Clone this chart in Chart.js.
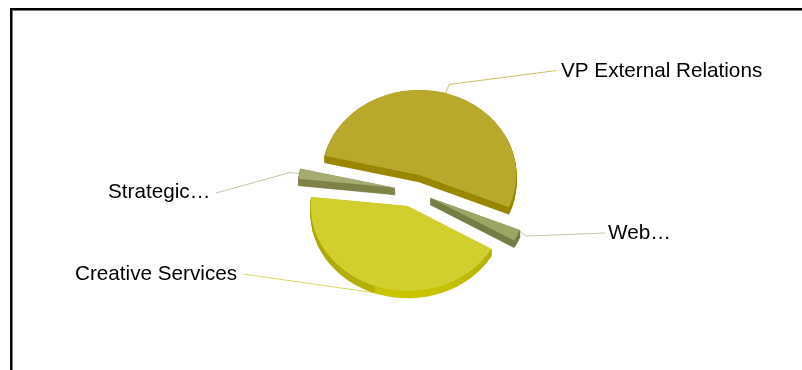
<!DOCTYPE html>
<html>
<head>
<meta charset="utf-8">
<style>
    html, body { margin: 0; padding: 0; background: #fff; overflow: hidden; }
    #wrap { position: relative; width: 802px; height: 370px; }
    #frame { position: absolute; left: 10px; top: 8px; right: 0; bottom: 0; border-left: 2px solid #000; border-top: 2px solid #000; box-shadow: inset 1px 1px 0 #777; }
    canvas { position: absolute; left: 0; top: 0; }
</style>
<script src="https://cdn.jsdelivr.net/npm/chart.js@4"></script>
</head>
<body>
<div id="wrap">
    <canvas id="chart-container" width="802" height="370"></canvas>
    <div id="frame"></div>
</div>
<script>
const categories = ['VP External Relations', 'Web…', 'Creative Services', 'Strategic…'];
const shares = [52.6, 2.2, 43.3, 1.9];
const topColors = ['#b8a92c', '#9ca566', '#d0cf2d', '#a6ab70'];
const sideColors = ['#9a8800', '#767e46', '#bdb800', '#7f8249'];
const lineColors = ['#c9bf63', '#c3c7a6', '#d9d866', '#c2c5a0'];

const TILT = 0.876;
const DEPTH = 7;
const EXPLODE = 18.7;

// where each label and its leader line sit, the leader starts on the slice rim
const labelLayout = [
    { x: 561, y: 77, elbow: [449, 84.5], end: [556.5, 70.5], drop: 0, along: 0.49 },
    { x: 608, y: 239, elbow: [526.5, 236], end: [605, 233], drop: 0, along: 0.1 },
    { x: 75, y: 280, elbow: [376, 293], end: [243, 274], drop: DEPTH, along: 0.5 },
    { x: 108, y: 198, elbow: [290, 172.5], end: [216, 193], drop: 0, along: 0.5 }
];

// the Creative Services wall is lit unevenly, with a step left of the front
const creativeWall = (ctx, arc) => {
    const shade = ctx.createLinearGradient(arc.x - arc.outerRadius, 0, arc.x + arc.outerRadius, 0);
    shade.addColorStop(0, '#aca708');
    shade.addColorStop(0.33, '#b6b108');
    shade.addColorStop(0.335, '#c9c500');
    shade.addColorStop(0.7, '#c6c200');
    shade.addColorStop(0.93, '#b3af0a');
    return shade;
};

const drawSlice = (ctx, arc, extra, drop) => {
    const mid = (arc.startAngle + arc.endAngle) / 2;
    const slice = Object.create(arc);
    slice.options = { ...arc.options, ...extra };

    ctx.save();
    ctx.translate(EXPLODE * Math.cos(mid), EXPLODE * Math.sin(mid) * TILT + drop);
    ctx.translate(arc.x, arc.y);
    ctx.scale(1, TILT);
    ctx.translate(-arc.x, -arc.y);
    slice.draw(ctx);
    ctx.restore();
};

const drawLeader = (ctx, arc, i) => {
    const spot = labelLayout[i];
    const angle = arc.startAngle + (arc.endAngle - arc.startAngle) * spot.along;
    const mid = (arc.startAngle + arc.endAngle) / 2;
    const rimX = arc.x + EXPLODE * Math.cos(mid) + arc.outerRadius * Math.cos(angle);
    const rimY = arc.y + (EXPLODE * Math.sin(mid) + arc.outerRadius * Math.sin(angle)) * TILT + spot.drop;

    ctx.strokeStyle = lineColors[i];
    ctx.lineWidth = 1;
    ctx.beginPath();
    ctx.moveTo(rimX, rimY);
    ctx.lineTo(spot.elbow[0], spot.elbow[1]);
    ctx.lineTo(spot.end[0], spot.end[1]);
    ctx.stroke();
};

const pieTilt = {
    id: 'pieTilt',
    beforeDatasetDraw(chart) {
        const ctx = chart.ctx;
        const arcs = chart.getDatasetMeta(0).data;

        arcs.forEach((arc, i) => drawLeader(ctx, arc, i));

        // slice walls: the same arcs stacked downwards in the darker colour
        for (let d = DEPTH; d >= 0.5; d -= 0.5) {
            arcs.forEach((arc, i) => {
                const color = i === 2 ? creativeWall(ctx, arc) : sideColors[i];
                drawSlice(ctx, arc, { backgroundColor: color, borderColor: color, borderWidth: 0.6 }, d);
            });
        }
        arcs.forEach((arc, i) => drawSlice(ctx, arc, { backgroundColor: topColors[i] }, 0));

        return false;
    }
};

const pieLabels = {
    id: 'pieLabels',
    afterDraw(chart) {
        const ctx = chart.ctx;

        ctx.save();
        ctx.fillStyle = '#000';
        ctx.font = '20.7px "Liberation Sans"';
        ctx.textAlign = 'left';
        ctx.textBaseline = 'alphabetic';
        categories.forEach((label, i) => {
            ctx.fillText(label, labelLayout[i].x, labelLayout[i].y);
        });
        ctx.restore();
    }
};

new Chart(document.getElementById('chart-container'), {
    type: 'pie',
    data: {
        labels: categories,
        datasets: [{
            data: shares,
            backgroundColor: topColors,
            borderWidth: 0
        }]
    },
    options: {
        responsive: false,
        animation: false,
        events: [],
        rotation: 283,
        radius: 97,
        layout: { padding: { left: 25, top: 11 } },
        plugins: {
            legend: { display: false },
            tooltip: { enabled: false }
        }
    },
    plugins: [pieTilt, pieLabels]
});
</script>
</body>
</html>
